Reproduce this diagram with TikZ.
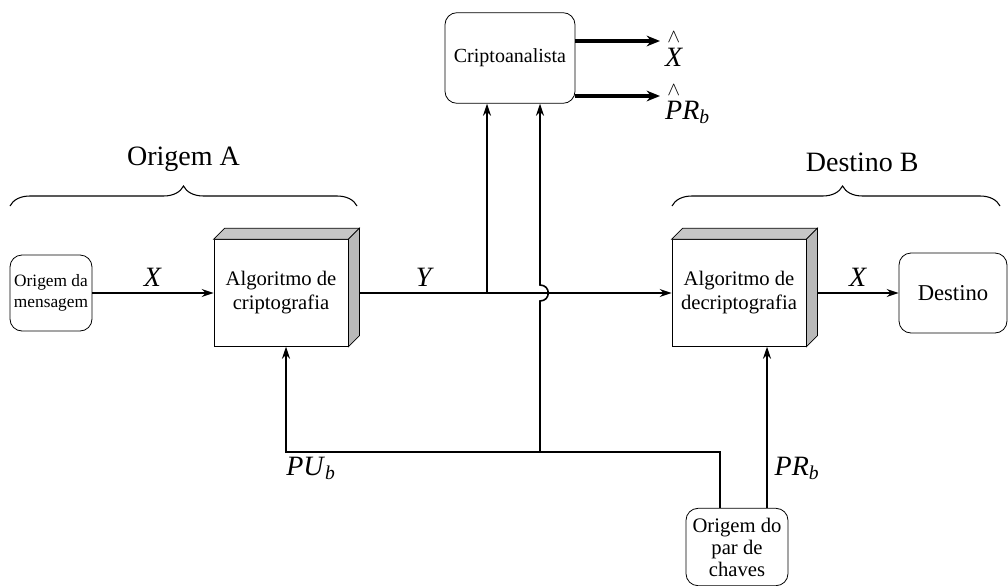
\documentclass[tikz,border=0pt]{standalone}
\usepackage{fontspec}
\usepackage{mathtools}
\setmainfont{Liberation Serif}
\usetikzlibrary{arrows.meta,decorations.pathreplacing}

\tikzset{
  wire/.style={line width=1.2pt},
  arr/.style={wire,-{Stealth[length=9pt,width=6pt]}},
  fatarr/.style={line width=3.2pt,-{Stealth[length=10pt,width=8pt]}},
  roundbox/.style={draw,line width=0.6pt,rounded corners=9pt,align=center,inner sep=2pt},
  cubebox/.style={draw,line width=0.6pt,fill=white,minimum width=100.5pt,minimum height=80pt,align=center,font=\fontsize{15.5}{18}\selectfont},
  lbl/.style={font=\fontsize{21}{24}\selectfont},
}

% side and top faces of a block
\newcommand{\blockfaces}[1]{%
  \fill[gray!45,draw=black,line width=0.6pt] (#1.north west) -- ++(11,-11) -- ([shift={(11,-11)}]#1.north east) -- (#1.north east) -- cycle;
  \fill[gray!55,draw=black,line width=0.6pt] (#1.north east) -- ++(11,-11) -- ([shift={(11,-11)}]#1.south east) -- (#1.south east) -- cycle;
}
\newcommand{\hatlbl}[1]{$\overset{\wedge}{\textit{#1}}$}

\begin{document}
\begin{tikzpicture}[x=0.75pt,y=0.75pt,yscale=-1,xscale=1]
\useasboundingbox (0,0) rectangle (1008,586);

% Shape: Boxes
\node [roundbox,minimum width=61.5pt,minimum height=57pt,font=\fontsize{13}{15.5}\selectfont] (msg) at (51,293) {Origem da\\mensagem};
\node [cubebox] (enc) at (281,293) {Algoritmo de\\criptografia};
\blockfaces{enc}
\node [cubebox] (dec) at (739,293) {Algoritmo de\\decriptografia};
\blockfaces{dec}
\node [roundbox,minimum width=81pt,minimum height=60pt,font=\fontsize{17}{20}\selectfont] (dst) at (953,293) {Destino};
\node [roundbox,minimum width=97.5pt,minimum height=68pt,font=\fontsize{15}{18}\selectfont] (crypt) at (510,58) {Criptoanalista};
\node [roundbox,minimum width=76.5pt,minimum height=58pt,font=\fontsize{15.5}{16.5}\selectfont] (keys) at (737,547) {Origem do\\par de\\chaves};

% Points on the wires
\coordinate (encout) at ([xshift=11*0.75pt]enc.east);
\coordinate (decout) at ([xshift=11*0.75pt]dec.east);
\coordinate (tapY) at (487,293);
\coordinate (kA) at ([xshift=-17*0.75pt]keys.north);
\coordinate (kB) at ([xshift=30*0.75pt]keys.north);
\coordinate (kbend) at (720,452);
\coordinate (pbend) at (286,452);
\coordinate (tapK) at (540,452);
\coordinate (hopin) at (540,301);
\coordinate (hopout) at (540,285);

% Straight Lines
\draw [arr] (msg) -- node [lbl,above=1pt] {\textit{X}} (enc);
\draw [arr] (encout) -- node [lbl,above=1pt,pos=0.21] {\textit{Y}} (dec);
\draw [arr] (decout) -- node [lbl,above=1pt] {\textit{X}} (dst);
\draw [arr] (tapY) -- (tapY |- crypt.south);
\draw [arr] (kA) -- (kbend) -- (pbend) -- (pbend |- enc.south);
\draw [arr] (kB) -- (kB |- dec.south);
\draw [arr] (tapK) -- (hopin) .. controls (551,301) and (551,285) .. (hopout) -- (hopout |- crypt.south);

% Labels
\node [lbl] (pub) at (311,468) {\textit{PU}\textsubscript{\textit{b}}};
\node [lbl] (prb) at (797,468) {\textit{PR}\textsubscript{\textit{b}}};

% Outputs of the analyst
\draw [fatarr] (crypt.east |- 0,41) -- (660,41) node [lbl,right=-1pt,yshift=-5pt] (xhat) {\hatlbl{X}};
\draw [fatarr] (crypt.east |- 0,96) -- (660,96) node [lbl,right=-1pt,yshift=-5pt] (prhat) {\hatlbl{P}\textit{R}\textsubscript{\textit{b}}};

% Braces
\draw [line width=0.8pt,decorate,decoration={brace,amplitude=15pt}] (10,206) -- (357,206) node [midway,above=22pt,lbl] (orA) {Origem A};
\draw [line width=0.8pt,decorate,decoration={brace,amplitude=15pt,aspect=0.52}] (672,206) -- (1000,206) node [pos=0.58,above=22pt,lbl] (dsB) {Destino B};

\end{tikzpicture}
\end{document}
